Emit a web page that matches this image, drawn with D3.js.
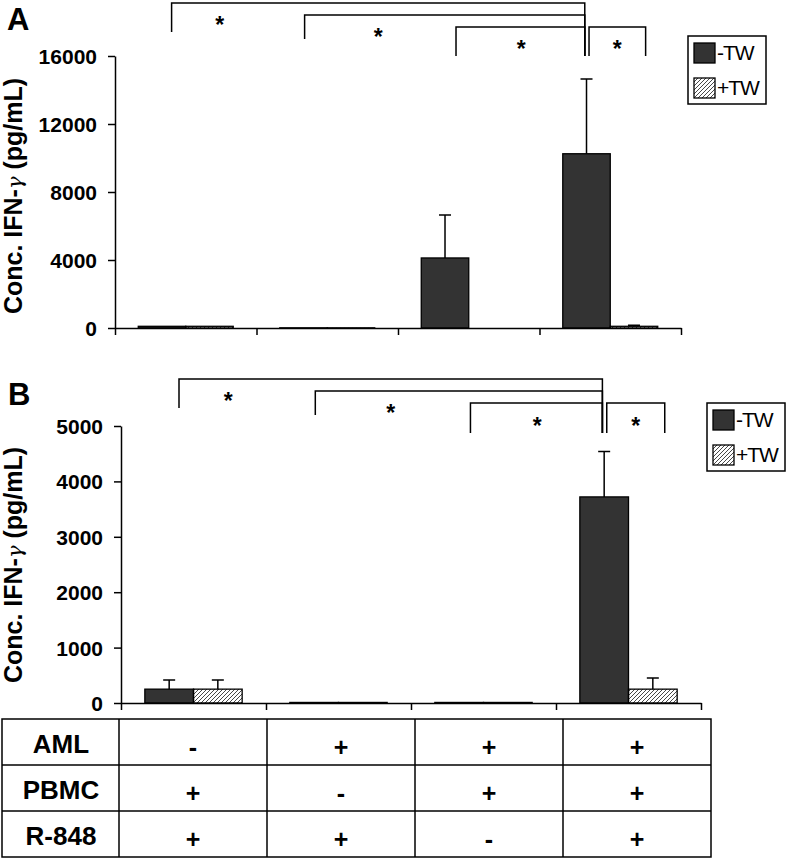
<!DOCTYPE html>
<html>
<head>
<meta charset="utf-8">
<script src="https://cdn.jsdelivr.net/npm/d3@7"></script>
<style>
  body { margin: 0; background: #fff; }
  text { font-family: "Liberation Sans", Arial, sans-serif; }
</style>
</head>
<body>
<svg id="chart"></svg>
<script>
// Conditions (x groups) and series
const groups = ["c1", "c2", "c3", "c4"];
const series = ["-TW", "+TW"];

// Panel A: IFN-gamma (pg/mL), mean and upper SD
const aMinus = [100, 10, 4120, 10250];
const aMinusErr = [0, 0, 2530, 4400];
const aPlus = [100, 10, 0, 100];
const aPlusErr = [0, 0, 0, 60];
const aTicks = [0, 4000, 8000, 12000, 16000];

// Panel B
const bMinus = [250, 10, 10, 3720];
const bMinusErr = [165, 0, 0, 820];
const bPlus = [250, 10, 10, 250];
const bPlusErr = [165, 0, 0, 200];
const bTicks = [0, 1000, 2000, 3000, 4000, 5000];

// Table below the chart
const rowLabels = ["AML", "PBMC", "R-848"];
const tableSigns = [
    ["-", "+", "+", "+"],
    ["+", "-", "+", "+"],
    ["+", "+", "-", "+"]
];

// significance brackets: start/end in group units, star position
const brackets = [
    { from: 0.40, to: 3.32, star: 0.74 },
    { from: 1.34, to: 3.32, star: 1.86 },
    { from: 2.41, to: 3.32, star: 2.87 },
    { from: 3.35, to: 3.75, star: 3.55 }
];

const width = 786;
const height = 859;

const svg = d3.select("#chart")
    .attr("width", width)
    .attr("height", height);

const defs = svg.append("defs");
defs.append("pattern")
    .attr("id", "hatch")
    .attr("patternUnits", "userSpaceOnUse")
    .attr("width", 4)
    .attr("height", 4)
    .append("path")
    .attr("d", "M-1,1 l2,-2 M0,4 l4,-4 M3,5 l2,-2")
    .attr("stroke", "#333")
    .attr("stroke-width", 0.9);

const fills = { "-TW": "#333333", "+TW": "url(#hatch)" };

function drawPanel(opt) {
    const g = svg.append("g");
    const y = d3.scaleLinear()
        .domain([0, opt.ticks[opt.ticks.length - 1]])
        .range([opt.bottom, opt.top]);
    const x0 = d3.scaleBand().domain(groups).range([opt.left, opt.right]);
    const x1 = d3.scaleBand().domain(series).range([0, x0.bandwidth()]).paddingOuter(0.49);
    const gx = d3.scaleLinear().domain([0, groups.length]).range([opt.left, opt.right]);

    const data = [];
    groups.forEach((grp, i) => {
        data.push({ grp, s: "-TW", v: opt.minus[i], e: opt.minusErr[i] });
        data.push({ grp, s: "+TW", v: opt.plus[i], e: opt.plusErr[i] });
    });

    // bars
    g.selectAll(".bar")
        .data(data)
        .enter()
        .append("rect")
        .attr("x", d => x0(d.grp) + x1(d.s))
        .attr("y", d => y(d.v))
        .attr("width", x1.bandwidth())
        .attr("height", d => y(0) - y(d.v))
        .attr("fill", d => fills[d.s])
        .attr("stroke", "#000")
        .attr("stroke-width", 1.3);

    // error bars (upper only)
    const err = data.filter(d => d.e > 0);
    const cx = d => x0(d.grp) + x1(d.s) + x1.bandwidth() / 2;
    g.selectAll(".err")
        .data(err)
        .enter()
        .append("path")
        .attr("d", d => `M${cx(d)},${y(d.v)}V${y(d.v + d.e)}M${cx(d) - 6},${y(d.v + d.e)}H${cx(d) + 6}`)
        .attr("stroke", "#000")
        .attr("stroke-width", 1.5)
        .attr("fill", "none");

    // y axis
    const ya = g.append("g")
        .attr("transform", `translate(${opt.left},0)`)
        .call(d3.axisLeft(y).tickValues(opt.ticks).tickFormat(d3.format("d"))
            .tickSize(7).tickSizeOuter(0).tickPadding(11));
    ya.selectAll("text")
        .style("font-size", "21px")
        .style("font-weight", "bold")
        .attr("dy", "0.36em")
        .attr("fill", "#000");

    // x axis with group boundary ticks
    g.append("g")
        .attr("transform", `translate(0,${opt.bottom})`)
        .call(d3.axisBottom(gx).tickValues(d3.range(groups.length + 1))
            .tickFormat("").tickSize(7).tickSizeOuter(0));

    g.selectAll(".domain, .tick line")
        .attr("stroke", "#000")
        .attr("stroke-width", 1.5);

    // y title
    const title = g.append("text")
        .attr("transform", `translate(22,${opt.titleY}) rotate(-90)`)
        .attr("text-anchor", "middle")
        .style("font-size", "25px")
        .style("font-weight", "bold");
    title.append("tspan").text("Conc. IFN-");
    title.append("tspan")
        .style("font-family", "'DejaVu Serif', serif")
        .style("font-weight", "normal")
        .style("font-style", "italic")
        .style("font-size", "21px")
        .text("\u03B3");
    title.append("tspan").text(" (pg/mL)");

    // panel letter
    g.append("text")
        .attr("x", opt.letterX)
        .attr("y", opt.letterY)
        .style("font-size", "31px")
        .style("font-weight", "bold")
        .text(opt.letter);

    // significance brackets
    brackets.forEach((b, i) => {
        const lv = opt.levels[i];
        g.append("path")
            .attr("d", `M${gx(b.from)},${lv.low}V${lv.top}H${gx(b.to)}V${opt.rightLow}`)
            .attr("fill", "none")
            .attr("stroke", "#000")
            .attr("stroke-width", 1.5);
        g.append("text")
            .attr("x", gx(b.star))
            .attr("y", lv.star + 11)
            .attr("text-anchor", "middle")
            .style("font-size", "23px")
            .style("font-weight", "bold")
            .text("*");
    });

    // legend
    const lg = g.append("g").attr("transform", `translate(${opt.legendX},${opt.legendY})`);
    lg.append("rect")
        .attr("width", 78).attr("height", 68)
        .attr("fill", "#fff").attr("stroke", "#000").attr("stroke-width", 1.5);
    series.forEach((s, i) => {
        lg.append("rect")
            .attr("x", 6).attr("y", 7 + i * 35)
            .attr("width", 21).attr("height", 20)
            .attr("fill", fills[s]).attr("stroke", "#000").attr("stroke-width", 1.3);
        lg.append("text")
            .attr("x", 29).attr("y", 24 + i * 35)
            .style("font-size", "21px")
            .style("letter-spacing", "-1px")
            .text(s);
    });
}

drawPanel({
    letter: "A", letterX: 7, letterY: 30, titleY: 196,
    left: 115, right: 681, top: 56, bottom: 328,
    ticks: aTicks, minus: aMinus, minusErr: aMinusErr, plus: aPlus, plusErr: aPlusErr,
    levels: [
        { top: 3, low: 32, star: 22 },
        { top: 15, low: 39, star: 34 },
        { top: 27, low: 56, star: 46 },
        { top: 27, low: 56, star: 46 }
    ],
    rightLow: 56,
    legendX: 688, legendY: 36
});

drawPanel({
    letter: "B", letterX: 8, letterY: 405, titleY: 565,
    left: 121, right: 701, top: 426, bottom: 703,
    ticks: bTicks, minus: bMinus, minusErr: bMinusErr, plus: bPlus, plusErr: bPlusErr,
    levels: [
        { top: 379, low: 408, star: 398 },
        { top: 391, low: 415, star: 410 },
        { top: 403, low: 433, star: 423 },
        { top: 403, low: 433, star: 423 }
    ],
    rightLow: 433,
    legendX: 707, legendY: 403
});

// table
const tx = d3.scaleBand().domain(groups).range([119, 711]);
const ty = d3.scaleBand().domain(rowLabels).range([719, 857]);
const tg = svg.append("g");
tg.append("rect")
    .attr("x", 2).attr("y", 719).attr("width", 709).attr("height", 138)
    .attr("fill", "none").attr("stroke", "#000").attr("stroke-width", 1.5);
tg.selectAll(".hl")
    .data(rowLabels.slice(1))
    .enter().append("line")
    .attr("x1", 2).attr("x2", 711)
    .attr("y1", d => ty(d)).attr("y2", d => ty(d))
    .attr("stroke", "#000").attr("stroke-width", 1.5);
tg.selectAll(".vl")
    .data(groups)
    .enter().append("line")
    .attr("x1", d => tx(d)).attr("x2", d => tx(d))
    .attr("y1", 719).attr("y2", 857)
    .attr("stroke", "#000").attr("stroke-width", 1.5);
tg.selectAll(".rl")
    .data(rowLabels)
    .enter().append("text")
    .attr("x", 61)
    .attr("y", d => ty(d) + ty.bandwidth() / 2 + 11)
    .attr("text-anchor", "middle")
    .style("font-size", "26px")
    .style("font-weight", "bold")
    .text(d => d);
rowLabels.forEach((r, ri) => {
    tg.selectAll(".cell" + ri)
        .data(tableSigns[ri])
        .enter().append("text")
        .attr("x", (d, i) => tx(groups[i]) + tx.bandwidth() / 2)
        .attr("y", ty(r) + ty.bandwidth() / 2 + 14)
        .attr("text-anchor", "middle")
        .style("font-size", "25px")
        .style("font-weight", "bold")
        .text(d => d);
});
</script>
</body>
</html>
